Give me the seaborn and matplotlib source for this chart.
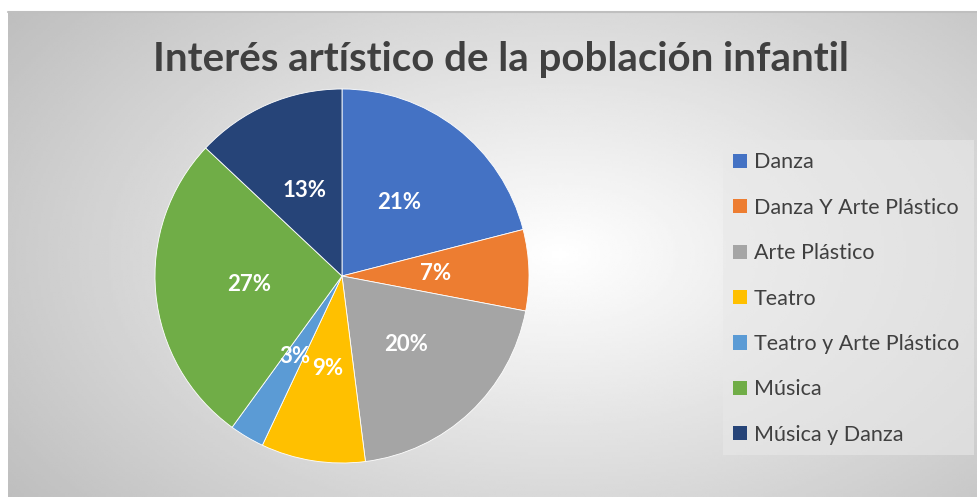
import numpy as np
import seaborn as sns
import matplotlib.pyplot as plt
from matplotlib.patches import Patch, Rectangle

# datos del grafico
categorias = ["Danza", "Danza Y Arte Plástico", "Arte Plástico", "Teatro",
              "Teatro y Arte Plástico", "Música", "Música y Danza"]
porcentajes = [21, 7, 20, 9, 3, 27, 13]
colores = ["#4472C4", "#ED7D31", "#A5A5A5", "#FFC000", "#5B9BD5", "#70AD47", "#264478"]
titulo = "Interés artístico de la población infantil"

sns.set_style("white")
plt.rcParams['font.family'] = ['Lato', 'DejaVu Sans']

W, H = 977, 499
fig = plt.figure(figsize=(W / 100, H / 100), dpi=100)
fig.patch.set_facecolor("white")

# fondo con degradado radial (zona del grafico)
x0, y0, x1, y1 = 8, 12, 977, 497
bg = fig.add_axes([x0 / W, 1 - y1 / H, (x1 - x0) / W, (y1 - y0) / H])
xx, yy = np.meshgrid(np.linspace(0, 1, 400), np.linspace(0, 1, 200))
d = np.sqrt(((xx - 0.57) / 0.75) ** 2 + ((yy - 0.5) / 0.9) ** 2)
d = np.clip(d, 0, 1)
grad = 1.0 - 0.27 * d
bg.imshow(grad, cmap="gray", vmin=0, vmax=1, aspect="auto", extent=[0, 1, 0, 1])
bg.set_xlim(0, 1)
bg.set_ylim(0, 1)
bg.axis("off")
# borde superior
fig.add_artist(plt.Line2D([x0 / W, 1], [1 - y0 / H, 1 - y0 / H], color="#bfbfbf", lw=1.5))

# pastel
cx, cy, r = 342, 276, 187
ax = fig.add_axes([(cx - r) / W, (H - cy - r) / H, 2 * r / W, 2 * r / H])
wedges, texts, autotexts = ax.pie(
    porcentajes, colors=colores, startangle=90, counterclock=False,
    autopct="%1.0f%%", pctdistance=0.5,
    wedgeprops=dict(edgecolor="white", linewidth=0.6),
    textprops=dict(color="white", fontsize=16, fontweight="bold"))
ax.set_xlim(-1, 1)
ax.set_ylim(-1, 1)
ax.axis("off")

fig.text(501 / W, 1 - 60 / H, titulo, ha="center", va="center",
         fontsize=29, fontweight="bold", color="#404040")

# caja de leyenda
fig.add_artist(Rectangle((723 / W, 1 - 455 / H), (974 - 723) / W, (455 - 140) / H,
                         transform=fig.transFigure, facecolor="#e8e8e8",
                         edgecolor="none", alpha=0.6))
handles = [Patch(facecolor=c, edgecolor="none") for c in colores]
fig.legend(handles, categorias, loc="upper left",
           bbox_to_anchor=(727 / W, 1 - 146 / H), frameon=False,
           fontsize=15.5, handlelength=0.65, handleheight=0.65,
           handletextpad=0.3, labelspacing=1.18, labelcolor="#404040",
           borderaxespad=0, borderpad=0.3)

fig.savefig("out.png", dpi=100)
